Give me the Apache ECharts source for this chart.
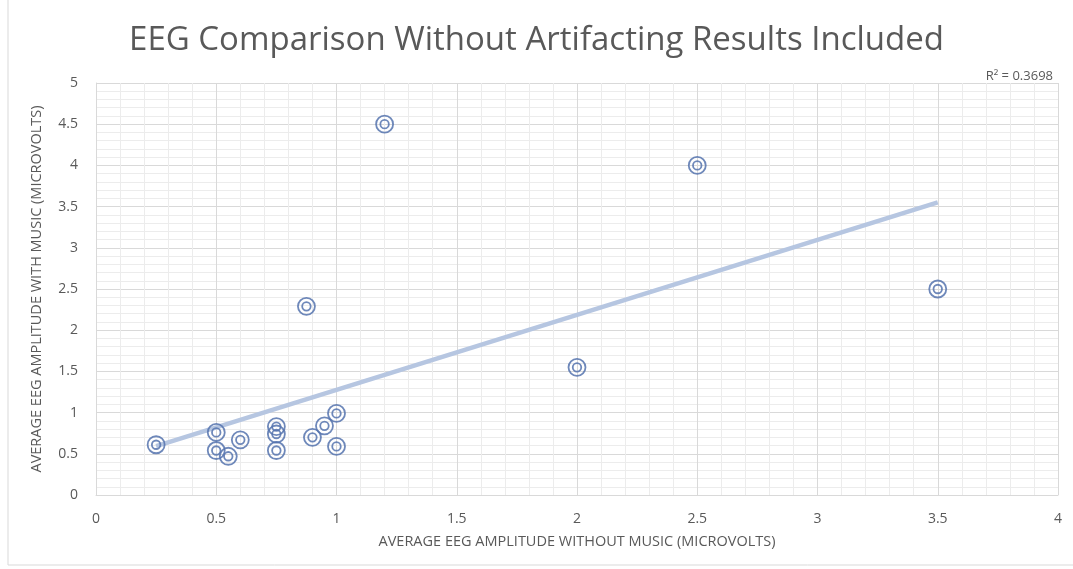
<!DOCTYPE html>
<html>
<head>
<meta charset="utf-8">
<script src="https://cdn.jsdelivr.net/npm/echarts@6/dist/echarts.min.js"></script>
<style>
html, body { margin: 0; padding: 0; background: #fff; }
#chart { width: 1073px; height: 569px; }
</style>
</head>
<body>
<div id="chart"></div>
<script>
// readings: without music (x) / with music (y)
var withoutMusic = [0.25, 0.5, 0.5, 0.55, 0.6, 0.75, 0.75, 0.75, 0.9, 0.95, 1.0, 1.0, 1.2, 2.5, 0.875, 2.0, 3.5];
var withMusic = [0.61, 0.76, 0.54, 0.47, 0.67, 0.83, 0.74, 0.54, 0.70, 0.84, 0.99, 0.59, 4.5, 4.0, 2.29, 1.55, 2.5];
var xTicks = [0, 0.5, 1, 1.5, 2, 2.5, 3, 3.5, 4];
var yTicks = [0, 0.5, 1, 1.5, 2, 2.5, 3, 3.5, 4, 4.5, 5];
var rSquaredText = 'R² = 0.3698';

var chart = echarts.init(document.getElementById('chart'));

var points = [];
for (var i = 0; i < withoutMusic.length; i++) {
    points.push([withoutMusic[i], withMusic[i]]);
}

// linear trendline (least squares) over the data range
function trendLine(xs, ys) {
    var n = xs.length, sx = 0, sy = 0, sxy = 0, sxx = 0;
    for (var i = 0; i < n; i++) {
        sx += xs[i]; sy += ys[i];
        sxy += xs[i] * ys[i]; sxx += xs[i] * xs[i];
    }
    var slope = (n * sxy - sx * sy) / (n * sxx - sx * sx);
    var icpt = (sy - slope * sx) / n;
    var x0 = Math.min.apply(null, xs), x1 = Math.max.apply(null, xs);
    return [[x0, slope * x0 + icpt], [x1, slope * x1 + icpt]];
}

var txt = '#595959';
var ringColor = '#5573ae';

var option = {
    backgroundColor: '#fff',
    animation: false,
    title: {
        text: 'EEG Comparison Without Artifacting Results Included',
        left: 'center',
        top: 19,
        textStyle: { fontFamily: 'Open Sans', fontWeight: 'normal', fontSize: 33, color: txt }
    },
    graphic: [{
        type: 'rect',
        shape: { x: 8, y: -2, width: 1070, height: 567 },
        style: { fill: 'none', stroke: '#d9d9d9', lineWidth: 1 }
    }, {
        type: 'text',
        right: 20,
        top: 70,
        style: { text: rSquaredText, fill: txt, font: '13px "Open Sans"' }
    }],
    grid: { left: 96, right: 15, top: 83, bottom: 74 },
    xAxis: {
        type: 'value',
        min: xTicks[0],
        max: xTicks[xTicks.length - 1],
        interval: 0.5,
        name: 'AVERAGE EEG AMPLITUDE WITHOUT MUSIC (MICROVOLTS)',
        nameLocation: 'middle',
        nameGap: 39,
        nameTextStyle: { color: txt, fontSize: 14.5, fontFamily: 'Open Sans' },
        axisLine: { show: true, lineStyle: { color: '#d9d9d9' } },
        axisTick: { show: false },
        axisLabel: { color: txt, fontSize: 14, fontFamily: 'Open Sans', margin: 17 },
        splitLine: { show: true, lineStyle: { color: '#d9d9d9', width: 1 } },
        minorTick: { show: false, splitNumber: 5 },
        minorSplitLine: { show: true, lineStyle: { color: '#ececec', width: 1 } }
    },
    yAxis: {
        type: 'value',
        min: yTicks[0],
        max: yTicks[yTicks.length - 1],
        interval: 0.5,
        name: 'AVERAGE EEG AMPLITUDE WITH MUSIC (MICROVOLTS)',
        nameLocation: 'middle',
        nameGap: 52,
        nameTextStyle: { color: txt, fontSize: 14.5, fontFamily: 'Open Sans' },
        axisLine: { show: true, lineStyle: { color: '#d9d9d9' } },
        axisTick: { show: false },
        axisLabel: { color: txt, fontSize: 14, fontFamily: 'Open Sans', margin: 18 },
        splitLine: { show: true, lineStyle: { color: '#d9d9d9', width: 1 } },
        minorTick: { show: false, splitNumber: 5 },
        minorSplitLine: { show: true, lineStyle: { color: '#ececec', width: 1 } }
    },
    series: [{
        type: 'line',
        data: trendLine(withoutMusic, withMusic),
        showSymbol: false,
        symbol: 'none',
        lineStyle: { color: '#b6c6e1', width: 4.5 },
        z: 1
    }, {
        // outer ring
        type: 'scatter',
        data: points,
        symbol: 'circle',
        symbolSize: 17,
        itemStyle: { color: 'rgba(255,255,255,0)', borderColor: ringColor, borderWidth: 1.8, opacity: 0.85 },
        z: 3
    }, {
        // inner ring
        type: 'scatter',
        data: points,
        symbol: 'circle',
        symbolSize: 8.5,
        itemStyle: { color: 'rgba(255,255,255,0)', borderColor: ringColor, borderWidth: 1.8, opacity: 0.85 },
        z: 4
    }]
};

chart.setOption(option);
</script>
</body>
</html>
